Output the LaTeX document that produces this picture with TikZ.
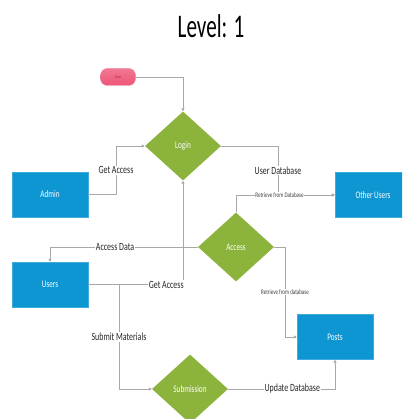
\documentclass[tikz,border=0pt]{standalone}
\usepackage{fontspec}
\setmainfont{Carlito}
\newfontfamily\condfont[FakeStretch=0.72]{Carlito}
\newfontfamily\titlefont[FakeStretch=0.64]{Carlito}
\usetikzlibrary{shapes.geometric,arrows.meta}
\definecolor{boxblue}{HTML}{0E96D3}
\definecolor{decgreen}{HTML}{8CB33C}
\definecolor{linegray}{HTML}{A8A8A8}
\definecolor{startpink}{HTML}{EE5577}
\definecolor{startedge}{HTML}{D9385C}
\begin{document}
\begin{tikzpicture}[x=1pt,y=-1pt,
  box/.style={rectangle, fill=boxblue, draw=boxblue!80!white, minimum width=76pt, minimum height=45pt, inner sep=0pt, text=white, font=\condfont\fontsize{10}{11}\selectfont},
  dec/.style={diamond, fill=decgreen, minimum width=76pt, minimum height=69pt, inner sep=0pt, text=white, font=\condfont\fontsize{10}{11}\selectfont},
  startbox/.style={rectangle, rounded corners=7pt, top color=startpink!80!white, bottom color=startpink, draw=startedge!60!white, minimum width=35pt, minimum height=17pt, inner sep=0pt, text=startedge!70!black, font=\condfont\fontsize{4}{5}\selectfont},
  conn/.style={draw=linegray, line width=0.8pt, -{Triangle[length=3pt,width=3pt,fill=gray]}},
  lbl/.style={fill=white, inner sep=1pt, text=black!85, font=\condfont\fontsize{11}{12}\selectfont},
  small/.style={fill=white, inner sep=0.5pt, text=black!75, font=\condfont\fontsize{7}{8}\selectfont}]
\useasboundingbox (0,0) rectangle (402,419);
\clip (0,0) rectangle (402,419);

\node[font=\titlefont\fontsize{33}{35}\selectfont] (title) at (211,26) {Level: 1};

\node[startbox] (start) at (118,77) {Start};
\node[dec] (login) at (183,146) {Login};
\node[box] (admin) at (50,194.5) {Admin};
\node[box] (other) at (373,195) {Other Users};
\node[dec] (access) at (236,247) {Access};
\node[box] (users) at (50,284.5) {Users};
\node[box] (posts) at (335,337) {Posts};
\node[dec] (submission) at (190,389) {Submission};

\coordinate (adminbend) at (116,194.5);
\coordinate (udb) at (278,195);
\coordinate (split) at (119,284.5);
\coordinate (accbend) at (285,247);

\draw[conn] (start.east) -| (login.north);
\draw[conn] (admin.east) -- (adminbend) |- node[lbl,pos=0.25]{Get Access} (login.west);
\draw[conn] (login.east) -| node[lbl,pos=0.75]{User Database} (udb) -- (other.west);
\draw[conn] (access.north) |- node[small,pos=0.72]{Retrieve from Database} (other.west);
\draw[conn] (access.west) -| node[lbl,pos=0.28]{Access Data} (users.north);
\draw[conn] (users.east) -| node[lbl,pos=0.5,anchor=east,xshift=2pt]{Get Access} (login.south);
\draw[conn] (split) |- node[lbl,pos=0.25]{Submit Materials} (submission.west);
\draw[conn] (access.east) -- (accbend) |- node[small,pos=0.25]{Retrieve from database} (posts.west);
\draw[conn] (submission.east) -| node[lbl,pos=0.3]{Update Database} (posts.south);
\end{tikzpicture}
\end{document}
